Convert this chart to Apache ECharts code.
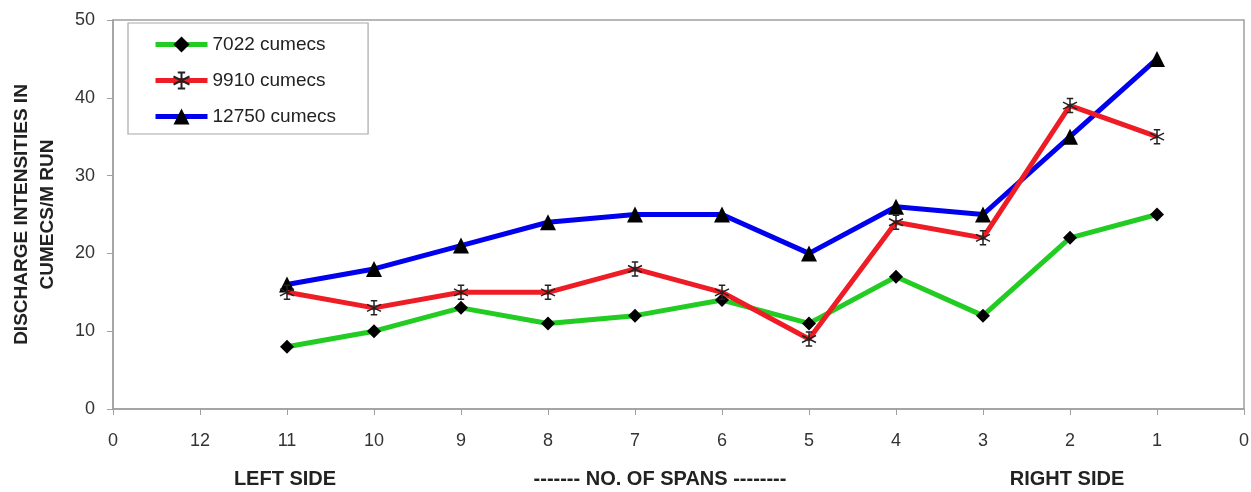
<!DOCTYPE html>
<html>
<head>
<meta charset="utf-8">
<script src="https://cdn.jsdelivr.net/npm/echarts@6/dist/echarts.min.js"></script>
<style>
html,body{margin:0;padding:0;background:#fff;}
#chart{width:1251px;height:492px;}
</style>
</head>
<body>
<div id="chart"></div>
<script>
const categories = ['0','12','11','10','9','8','7','6','5','4','3','2','1','0'];
const seriesNames = ['7022 cumecs','9910 cumecs','12750 cumecs'];
const s7022  = [null, null, 8, 10, 13, 11, 12, 14, 11, 17, 12, 22, 25, null];
const s9910  = [null, null, 15, 13, 15, 15, 18, 15, 9, 24, 22, 39, 35, null];
const s12750 = [null, null, 16, 18, 21, 24, 25, 25, 20, 26, 25, 35, 45, null];
const yTicks = [0, 10, 20, 30, 40, 50];
const bottomLabels = ['LEFT SIDE', '------- NO. OF SPANS --------', 'RIGHT SIDE'];

const FONT = '"Liberation Sans", Arial, sans-serif';
const asterisk = 'path://M0,-10L0,10M-8.66,-5L8.66,5M-8.66,5L8.66,-5M-4,-10L4,-10M-4,10L4,10';

const chart = echarts.init(document.getElementById('chart'));
chart.setOption({
  animation: false,
  backgroundColor: '#fff',
  textStyle: {fontFamily: FONT},
  grid: {left: 113, right: 7, top: 20, bottom: 83, containLabel: false, outerBoundsMode: 'none',
         show: true, borderColor: '#a0a0a0', borderWidth: 1.5},
  legend: {
    orient: 'vertical', left: 128, top: 23,
    padding: [12, 32, 8, 25],
    itemWidth: 52, itemHeight: 20, itemGap: 17,
    borderColor: '#a8a8a8', borderWidth: 1.2,
    lineStyle: {width: 5},
    textStyle: {fontFamily: FONT, fontSize: 19, color: '#222'},
    data: seriesNames
  },
  xAxis: {
    type: 'category', data: categories, boundaryGap: false,
    axisLine: {lineStyle: {color: '#a0a0a0', width: 1.5}},
    axisTick: {show: true, length: 6, lineStyle: {color: '#a0a0a0'}},
    axisLabel: {fontSize: 18, color: '#333', margin: 23, fontFamily: FONT},
    splitLine: {show: false}
  },
  yAxis: {
    type: 'value', min: yTicks[0], max: yTicks[yTicks.length-1], interval: 10,
    axisLine: {show: true, lineStyle: {color: '#a0a0a0', width: 1.5}},
    axisTick: {show: true, length: 6, lineStyle: {color: '#a0a0a0'}},
    axisLabel: {fontSize: 18, color: '#333', margin: 18, fontFamily: FONT},
    splitLine: {show: false},
    name: 'DISCHARGE INTENSITIES IN\nCUMECS/M RUN',
    nameLocation: 'middle', nameGap: 52, nameRotate: 90,
    nameTextStyle: {fontSize: 19, fontWeight: 'bold', color: '#222', lineHeight: 26, fontFamily: FONT}
  },
  series: [
    {name: seriesNames[0], type: 'line', data: s7022, symbol: 'diamond', symbolSize: 14,
     lineStyle: {color: '#22cc22', width: 5}, itemStyle: {color: '#000'}, z: 3},
    {name: seriesNames[1], type: 'line', data: s9910, symbol: asterisk, symbolSize: 14,
     lineStyle: {color: '#ee1c24', width: 5}, itemStyle: {color: 'rgba(255,255,255,0)', borderColor: '#222', borderWidth: 1.5}, z: 4},
    {name: seriesNames[2], type: 'line', data: s12750, symbol: 'triangle', symbolSize: 16,
     lineStyle: {color: '#0000ee', width: 5}, itemStyle: {color: '#000'}, z: 2}
  ],
  graphic: [
    {type: 'text', x: 285, y: 479, style: {text: bottomLabels[0], font: 'bold 20px ' + FONT, fill: '#222', textAlign: 'center', textVerticalAlign: 'middle'}},
    {type: 'text', x: 660, y: 479, style: {text: bottomLabels[1], font: 'bold 20px ' + FONT, fill: '#222', textAlign: 'center', textVerticalAlign: 'middle'}},
    {type: 'text', x: 1067, y: 479, style: {text: bottomLabels[2], font: 'bold 20px ' + FONT, fill: '#222', textAlign: 'center', textVerticalAlign: 'middle'}}
  ]
});
</script>
</body>
</html>
